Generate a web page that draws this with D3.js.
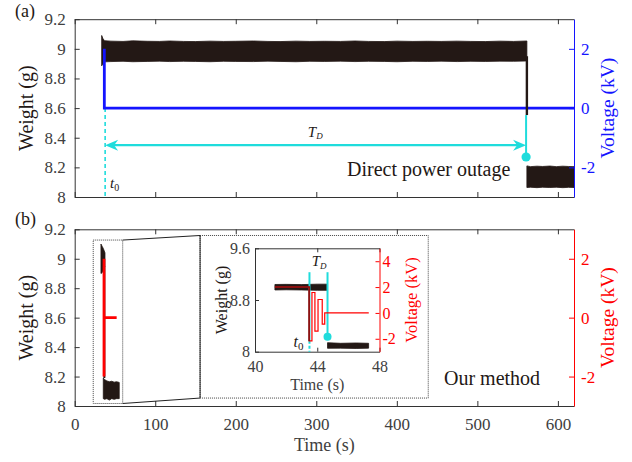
<!DOCTYPE html>
<html>
<head>
<meta charset="utf-8">
<script src="https://cdn.jsdelivr.net/npm/d3@7"></script>
<style>
body { margin: 0; background: #fff; }
text { font-family: "Liberation Serif", "Times New Roman", serif; }
</style>
</head>
<body>
<div id="chart"></div>
<script>
// ---- ticks
const xTicks = [0, 100, 200, 300, 400, 500, 600];
const weightTicks = [8, 8.2, 8.4, 8.6, 8.8, 9, 9.2];
const voltTicks = [-2, 0, 2];
const insetXTicks = [40, 44, 48];
const insetWeightTicks = [8, 8.8, 9.6];
const insetVoltTicks = [-2, 0, 2, 4];

// ---- (a) direct power outage: envelope of the noisy weight trace
const aBeforeT  = [33.5, 35, 37, 45, 60, 72, 90, 105, 118, 135, 150, 168, 185, 200, 222, 240, 255, 275, 292, 310, 330, 348, 365, 385, 400, 420, 438, 455, 475, 492, 510, 528, 545, 561.5];
const aBeforeHi = [9.09, 9.07, 9.055, 9.052, 9.05, 9.054, 9.051, 9.05, 9.053, 9.05, 9.049, 9.052, 9.05, 9.051, 9.053, 9.05, 9.049, 9.052, 9.05, 9.051, 9.05, 9.053, 9.05, 9.049, 9.052, 9.05, 9.051, 9.05, 9.052, 9.05, 9.049, 9.052, 9.05, 9.053];
const aBeforeLo = [8.885, 8.9, 8.912, 8.914, 8.916, 8.913, 8.915, 8.917, 8.914, 8.916, 8.915, 8.913, 8.916, 8.915, 8.914, 8.917, 8.915, 8.913, 8.916, 8.915, 8.917, 8.914, 8.916, 8.915, 8.913, 8.916, 8.915, 8.917, 8.914, 8.916, 8.915, 8.917, 8.916, 8.918];
const aAfterT   = [561.5, 566, 574, 581, 590, 598, 606, 613, 620];
const aAfterHi  = [8.21, 8.205, 8.208, 8.206, 8.209, 8.205, 8.208, 8.206, 8.205];
const aAfterLo  = [8.064, 8.066, 8.063, 8.066, 8.064, 8.066, 8.063, 8.065, 8.064];
const aVoltT = [36.8, 36.8, 620];
const aVoltV = [2, 0, 0];
const aT0 = 37.8;            // s
const aDropT = 561.5;        // s
const aDropW = [8.95, 8.553];
const aEndT = 560.5;
const aEndW = 8.27;
const aArrowW = 8.35;

// ---- (b) our method
const bHeadT  = [32.6, 34, 35.5, 37.6];
const bHeadHi = [9.1, 9.085, 9.07, 9.04];
const bHeadLo = [8.9, 8.905, 8.92, 8.95];
const bTailT  = [35.5, 37, 40, 43, 46, 49, 52, 55.3];
const bTailHi = [8.19, 8.18, 8.17, 8.165, 8.168, 8.162, 8.165, 8.16];
const bTailLo = [8.05, 8.045, 8.05, 8.04, 8.05, 8.045, 8.05, 8.05];
const bLinkT = 36.8;
const bLinkW = [8.95, 8.19];
const bVoltT = [36.4, 36.4, 36.4, 52.1];
const bVoltV = [2, -2, 0, 0];
const zoomT = [23, 59.6], zoomW = [8.017, 9.127];
const frameT = [155.7, 439], frameW = [8.054, 9.158];

// ---- inset (zoom of 40-48 s)
const iBeforeT  = [41.28, 42, 43, 44, 44.62];
const iBeforeHi = [9.04, 9.042, 9.038, 9.045, 9.045];
const iBeforeLo = [8.955, 8.958, 8.955, 8.95, 8.95];
const iAfterT  = [44.66, 45.5, 46.5, 47.3];
const iAfterHi = [8.139, 8.13, 8.135, 8.13];
const iAfterLo = [8.053, 8.055, 8.05, 8.055];
const iVoltT = [41.28, 43.48, 43.66, 43.85, 44.05, 44.32, 44.48, 47.31];
const iVoltV = [2, -2.17, 1.58, -1.41, 1.04, -0.87, 0, 0];
const iT0 = 43.5, iEndT = 44.66, iEndW = 8.23, iCyanTop = 9.23;

const DARK = "#231815", CYAN = "#1fdcdc", BLUE = "#1414ff", RED = "#ff0000";
const AX = "#333333", LBL = "#404040";
const FONT = '"Liberation Serif", "Times New Roman", serif';

const svg = d3.select("#chart").append("svg")
    .attr("width", 632).attr("height", 462)
    .style("background", "#fff");

const x = d3.scaleLinear().domain([0, 620]).range([74.7, 574]);
const yA = d3.scaleLinear().domain([8, 9.2]).range([197, 19.2]);
const vA = d3.scaleLinear().domain([-3, 3]).range([197, 19.2]);
const yB = d3.scaleLinear().domain([8, 9.2]).range([406, 229.3]);
const vB = d3.scaleLinear().domain([-3, 3]).range([406, 229.3]);
const xi = d3.scaleLinear().domain([40, 48]).range([255, 379.5]);
const yi = d3.scaleLinear().domain([8, 9.6]).range([351.7, 248.3]);
const vi = d3.scaleLinear().domain([-3, 5]).range([351.7, 248.3]);

const zip3 = (t, hi, lo) => t.map((d, i) => ({t: d, hi: hi[i], lo: lo[i]}));
const zip2 = (t, v) => t.map((d, i) => ({t: d, v: v[i]}));

function band(g, xs, ys, data) {
    g.append("path")
        .datum(data)
        .attr("fill", DARK)
        .attr("stroke", DARK)
        .attr("stroke-width", 0.8)
        .attr("d", d3.area().x(d => xs(d.t)).y0(d => ys(d.lo)).y1(d => ys(d.hi)));
}

function styleAxis(g, color, size) {
    g.select(".domain").attr("stroke", color);
    g.selectAll(".tick line").attr("stroke", color);
    g.selectAll(".tick text")
        .attr("fill", color === AX ? LBL : color)
        .style("font-family", FONT)
        .style("font-size", size + "px");
}

// ================= panel (a)
{
    const fs = 17;
    const gb = svg.append("g").attr("transform", `translate(0,${yA(8)})`)
        .call(d3.axisBottom(x).tickValues(xTicks).tickSizeInner(-5).tickSizeOuter(0).tickFormat(""));
    styleAxis(gb, AX, fs);
    const gt = svg.append("g").attr("transform", `translate(0,${yA(9.2)})`)
        .call(d3.axisTop(x).tickValues(xTicks).tickSizeInner(-5).tickSizeOuter(0).tickFormat(""));
    styleAxis(gt, AX, fs);
    const gl = svg.append("g").attr("transform", `translate(${x(0)},0)`)
        .call(d3.axisLeft(yA).tickValues(weightTicks).tickSizeInner(-5).tickSizeOuter(0)
            .tickPadding(9).tickFormat(d => String(+d.toFixed(1))));
    styleAxis(gl, AX, fs);

    // t0 marker
    svg.append("line")
        .attr("x1", x(aT0)).attr("x2", x(aT0))
        .attr("y1", vA(0)).attr("y2", yA(8))
        .attr("stroke", CYAN).attr("stroke-width", 1.6).attr("stroke-dasharray", "4,3");

    band(svg, x, yA, zip3(aBeforeT, aBeforeHi, aBeforeLo));
    band(svg, x, yA, zip3(aAfterT, aAfterHi, aAfterLo));

    svg.append("path")
        .datum(zip2(aVoltT, aVoltV))
        .attr("fill", "none").attr("stroke", BLUE).attr("stroke-width", 2.8)
        .attr("d", d3.line().x(d => x(d.t)).y(d => vA(d.v)));

    svg.append("line")
        .attr("x1", x(aDropT)).attr("x2", x(aDropT))
        .attr("y1", yA(aDropW[0])).attr("y2", yA(aDropW[1]))
        .attr("stroke", DARK).attr("stroke-width", 2.4);
    svg.append("line")
        .attr("x1", x(aEndT)).attr("x2", x(aEndT))
        .attr("y1", yA(aDropW[1])).attr("y2", yA(aEndW))
        .attr("stroke", CYAN).attr("stroke-width", 2);
    svg.append("circle")
        .attr("cx", x(aEndT)).attr("cy", yA(aEndW)).attr("r", 4.6).attr("fill", CYAN);

    // T_D arrow
    const ay = yA(aArrowW);
    const xl = x(aT0), xr = x(aEndT);
    svg.append("line")
        .attr("x1", xl + 8).attr("x2", xr - 8).attr("y1", ay).attr("y2", ay)
        .attr("stroke", CYAN).attr("stroke-width", 2.4);
    const head = "M0,0 L-13,-5.5 L-9,0 L-13,5.5 Z";
    svg.append("path").attr("d", head).attr("fill", CYAN)
        .attr("transform", `translate(${xr},${ay})`);
    svg.append("path").attr("d", head).attr("fill", CYAN)
        .attr("transform", `translate(${xl},${ay}) rotate(180)`);

    const gr = svg.append("g").attr("transform", `translate(${x(620)},0)`)
        .call(d3.axisRight(vA).tickValues(voltTicks).tickSizeInner(-5).tickSizeOuter(0)
            .tickPadding(7).tickFormat(d => String(d)));
    styleAxis(gr, BLUE, fs);

    const td = svg.append("text").attr("x", x(289.5)).attr("y", yA(8.405))
        .attr("fill", DARK).style("font-size", "15px").style("font-style", "italic");
    td.append("tspan").text("T");
    td.append("tspan").attr("dy", 2).style("font-size", "9px").text("D");

    const t0 = svg.append("text").attr("x", x(43.9)).attr("y", yA(8.06))
        .attr("fill", DARK).style("font-size", "15px").style("font-style", "italic");
    t0.append("tspan").text("t");
    t0.append("tspan").attr("dy", 3).style("font-size", "10px").style("font-style", "normal").text("0");

    svg.append("text").attr("x", x(338.2)).attr("y", yA(8.144))
        .attr("fill", DARK).style("font-size", "20px").text("Direct power outage");

    svg.append("text").attr("transform", `translate(33,${yA(8.6)}) rotate(-90)`)
        .attr("text-anchor", "middle").attr("fill", DARK).style("font-size", "20px").text("Weight (g)");
    svg.append("text").attr("transform", `translate(614,${vA(0)}) rotate(-90)`)
        .attr("text-anchor", "middle").attr("fill", BLUE).style("font-size", "19.5px").text("Voltage (kV)");
    svg.append("text").attr("x", 15).attr("y", 17)
        .attr("fill", DARK).style("font-size", "18px").text("(a)");
}

// ================= panel (b)
{
    const fs = 17;
    const gb = svg.append("g").attr("transform", `translate(0,${yB(8)})`)
        .call(d3.axisBottom(x).tickValues(xTicks).tickSizeInner(-5).tickSizeOuter(0)
            .tickPadding(12).tickFormat(d => String(d)));
    styleAxis(gb, AX, fs);
    const gt = svg.append("g").attr("transform", `translate(0,${yB(9.2)})`)
        .call(d3.axisTop(x).tickValues(xTicks).tickSizeInner(-5).tickSizeOuter(0).tickFormat(""));
    styleAxis(gt, AX, fs);
    const gl = svg.append("g").attr("transform", `translate(${x(0)},0)`)
        .call(d3.axisLeft(yB).tickValues(weightTicks).tickSizeInner(-5).tickSizeOuter(0)
            .tickPadding(9).tickFormat(d => String(+d.toFixed(1))));
    styleAxis(gl, AX, fs);

    // zoom box, connector and inset frame
    svg.append("rect")
        .attr("x", x(zoomT[0])).attr("y", yB(zoomW[1]))
        .attr("width", x(zoomT[1]) - x(zoomT[0])).attr("height", yB(zoomW[0]) - yB(zoomW[1]))
        .attr("fill", "none").attr("stroke", "#444").attr("stroke-width", 1).attr("stroke-dasharray", "1,1");
    svg.append("rect")
        .attr("x", x(frameT[0])).attr("y", yB(frameW[1]))
        .attr("width", x(frameT[1]) - x(frameT[0])).attr("height", yB(frameW[0]) - yB(frameW[1]))
        .attr("fill", "none").attr("stroke", "#444").attr("stroke-width", 1).attr("stroke-dasharray", "1,1");
    svg.append("path")
        .attr("fill", "none").attr("stroke", "#222").attr("stroke-width", 1)
        .attr("d", d3.line()([
            [x(zoomT[1]), yB(zoomW[1])], [x(frameT[0]), yB(frameW[1])],
            [x(frameT[0]), yB(frameW[0])], [x(zoomT[1]), yB(zoomW[0])]
        ]));

    band(svg, x, yB, zip3(bHeadT, bHeadHi, bHeadLo));
    band(svg, x, yB, zip3(bTailT, bTailHi, bTailLo));
    svg.append("line")
        .attr("x1", x(bLinkT)).attr("x2", x(bLinkT))
        .attr("y1", yB(bLinkW[0])).attr("y2", yB(bLinkW[1]))
        .attr("stroke", DARK).attr("stroke-width", 2);
    svg.append("path")
        .datum(zip2(bVoltT, bVoltV))
        .attr("fill", "none").attr("stroke", RED).attr("stroke-width", 2.8)
        .attr("d", d3.line().x(d => x(d.t)).y(d => vB(d.v)));

    const gr = svg.append("g").attr("transform", `translate(${x(620)},0)`)
        .call(d3.axisRight(vB).tickValues(voltTicks).tickSizeInner(-5).tickSizeOuter(0)
            .tickPadding(7).tickFormat(d => String(d)));
    styleAxis(gr, RED, fs);

    svg.append("text").attr("x", x(458.6)).attr("y", yB(8.143))
        .attr("fill", DARK).style("font-size", "20px").text("Our method");
    svg.append("text").attr("x", x(310)).attr("y", 451)
        .attr("text-anchor", "middle").attr("fill", LBL).style("font-size", "18px").text("Time (s)");
    svg.append("text").attr("transform", `translate(33,${yB(8.6)}) rotate(-90)`)
        .attr("text-anchor", "middle").attr("fill", DARK).style("font-size", "20px").text("Weight (g)");
    svg.append("text").attr("transform", `translate(614,${vB(0)}) rotate(-90)`)
        .attr("text-anchor", "middle").attr("fill", RED).style("font-size", "19.5px").text("Voltage (kV)");
    svg.append("text").attr("x", 15).attr("y", 225)
        .attr("fill", DARK).style("font-size", "18px").text("(b)");
}

// ================= inset
{
    const fs = 16;
    const gb = svg.append("g").attr("transform", `translate(0,${yi(8)})`)
        .call(d3.axisBottom(xi).tickValues(insetXTicks).tickSizeInner(-4).tickSizeOuter(0)
            .tickPadding(9).tickFormat(d => String(d)));
    styleAxis(gb, AX, fs);
    const gt = svg.append("g").attr("transform", `translate(0,${yi(9.6)})`)
        .call(d3.axisTop(xi).tickValues(insetXTicks).tickSizeInner(-4).tickSizeOuter(0).tickFormat(""));
    styleAxis(gt, AX, fs);
    const gl = svg.append("g").attr("transform", `translate(${xi(40)},0)`)
        .call(d3.axisLeft(yi).tickValues(insetWeightTicks).tickSizeInner(-4).tickSizeOuter(0)
            .tickPadding(5).tickFormat(d => String(+d.toFixed(1))));
    styleAxis(gl, AX, fs);

    band(svg, xi, yi, zip3(iBeforeT, iBeforeHi, iBeforeLo));
    band(svg, xi, yi, zip3(iAfterT, iAfterHi, iAfterLo));

    // cyan markers
    svg.append("line")
        .attr("x1", xi(iT0)).attr("x2", xi(iT0)).attr("y1", yi(iCyanTop)).attr("y2", yi(8.17))
        .attr("stroke", CYAN).attr("stroke-width", 2);
    svg.append("line")
        .attr("x1", xi(iT0)).attr("x2", xi(iT0)).attr("y1", yi(8.17)).attr("y2", yi(8))
        .attr("stroke", CYAN).attr("stroke-width", 2).attr("stroke-dasharray", "3,2");
    svg.append("line")
        .attr("x1", xi(iEndT)).attr("x2", xi(iEndT)).attr("y1", yi(iCyanTop)).attr("y2", yi(iEndW))
        .attr("stroke", CYAN).attr("stroke-width", 2);

    const vline = d3.line().x(d => xi(d.t)).y(d => vi(d.v)).curve(d3.curveStepAfter);
    const volt = zip2(iVoltT, iVoltV);
    svg.append("path").datum(volt)
        .attr("fill", "none").attr("stroke", RED).attr("stroke-width", 1.2)
        .attr("d", vline);
    svg.append("path").datum(volt.slice(0, 2))
        .attr("fill", "none").attr("stroke", "#8a1010").attr("stroke-width", 1.6)
        .attr("d", vline);

    svg.append("circle")
        .attr("cx", xi(iEndT)).attr("cy", yi(iEndW)).attr("r", 4).attr("fill", CYAN);

    const gr = svg.append("g").attr("transform", `translate(${xi(48)},0)`)
        .call(d3.axisRight(vi).tickValues(insetVoltTicks).tickSizeInner(-4).tickSizeOuter(0)
            .tickPadding(3).tickFormat(d => String(d)));
    styleAxis(gr, RED, fs);

    const td = svg.append("text").attr("x", xi(43.64)).attr("y", yi(9.319))
        .attr("fill", DARK).style("font-size", "15px").style("font-style", "italic");
    td.append("tspan").text("T");
    td.append("tspan").attr("dy", 3).style("font-size", "9px").text("D");
    const t0 = svg.append("text").attr("x", xi(42.48)).attr("y", yi(8.073))
        .attr("fill", DARK).style("font-size", "16px").style("font-style", "italic");
    t0.append("tspan").text("t");
    t0.append("tspan").attr("dy", 3).style("font-size", "11px").style("font-style", "normal").text("0");

    svg.append("text").attr("x", xi(44)).attr("y", 390)
        .attr("text-anchor", "middle").attr("fill", LBL).style("font-size", "16px").text("Time (s)");
    svg.append("text").attr("transform", `translate(227,${yi(8.8)}) rotate(-90)`)
        .attr("text-anchor", "middle").attr("fill", DARK).style("font-size", "16px").text("Weight (g)");
    svg.append("text").attr("transform", `translate(417,${vi(1)}) rotate(-90)`)
        .attr("text-anchor", "middle").attr("fill", RED).style("font-size", "16.5px").text("Voltage (kV)");
}
</script>
</body>
</html>
